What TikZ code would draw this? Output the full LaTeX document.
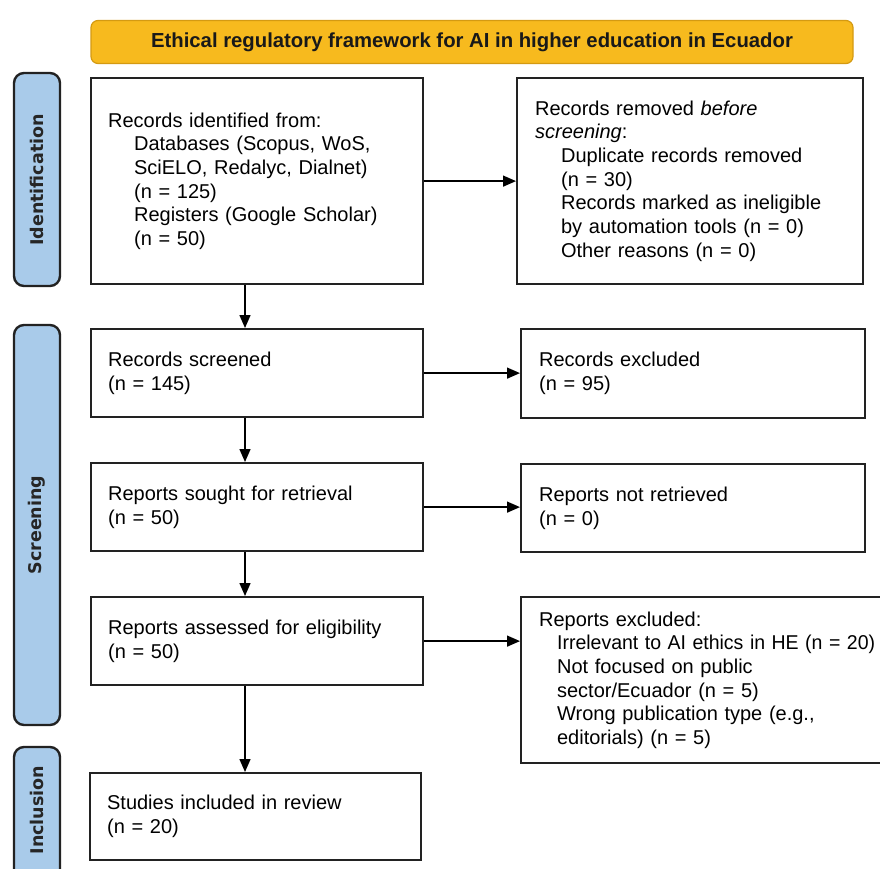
\documentclass[tikz,border=0pt]{standalone}
\usepackage{fontspec}
\setmainfont{Liberation Sans}
\newfontfamily\labfont{DejaVu Sans}
\usetikzlibrary{arrows.meta}
\definecolor{gold}{HTML}{F7BA1E}
\definecolor{goldline}{HTML}{D49A12}
\definecolor{phaseblue}{HTML}{A9CBEA}
\definecolor{darkline}{HTML}{222222}
\tikzset{
  box/.style={draw=darkline, line width=2.2pt, rectangle, align=left, inner xsep=17pt, inner ysep=0pt,
    font=\fontsize{20}{23.7}\selectfont, anchor=north west},
  phase/.style={draw=darkline, fill=phaseblue, line width=2.4pt, rounded corners=10pt},
  phasetext/.style={font=\labfont\bfseries\fontsize{17.5}{20}\selectfont, text=black!85, rotate=90},
  arr/.style={line width=1.4pt, -{Triangle[length=13pt,width=11pt]}}
}
\newcommand{\ind}{\hspace*{26pt}}
\begin{document}
\begin{tikzpicture}[x=1pt,y=-1pt]
\useasboundingbox (0,0) rectangle (880,868);
\clip (0,0) rectangle (880,868);
% title
\node[draw=goldline, fill=gold, line width=1.2pt, rounded corners=7pt, minimum width=762pt, minimum height=43pt, inner sep=0pt,
  font=\bfseries\fontsize{20.3}{22}\selectfont, text=black!90] (title) at (472,42) {Ethical regulatory framework for AI in higher education in Ecuador};
% phase labels
\draw[phase] (14,73) rectangle (60,286);
\node[phasetext] (pid) at (37,180) {Identification};
\draw[phase] (14,325) rectangle (60,725);
\node[phasetext] (psc) at (37,525) {Screening};
\draw[phase] (14,747) rectangle (60,900);
\node[phasetext] (pin) at (37,810) {Inclusion};
% left column
\node[box, minimum width=332pt, minimum height=206pt, text width=298pt] (b1) at (90,77) {Records identified from:\\
\ind Databases (Scopus, WoS,\\
\ind SciELO, Redalyc, Dialnet)\\
\ind (n = 125)\\
\ind Registers (Google Scholar)\\
\ind (n = 50)};
\node[box, minimum width=332pt, minimum height=88pt, text width=298pt] (b2) at (90,328) {Records screened\\(n = 145)};
\node[box, minimum width=332pt, minimum height=88pt, text width=298pt] (b3) at (90,462) {Reports sought for retrieval\\(n = 50)};
\node[box, minimum width=332pt, minimum height=88pt, text width=298pt] (b4) at (90,596) {Reports assessed for eligibility\\(n = 50)};
\node[box, minimum width=331pt, minimum height=87pt, text width=297pt] (b5) at (89,772) {Studies included in review\\(n = 20)};
% right column
\node[box, minimum width=345pt, minimum height=206pt, text width=310pt, inner xsep=18pt] (r1) at (516,77) {Records removed \textit{before}\\
\textit{screening}:\\
\ind Duplicate records removed\\
\ind (n = 30)\\
\ind Records marked as ineligible\\
\ind by automation tools (n = 0)\\
\ind Other reasons (n = 0)};
\node[box, minimum width=344pt, minimum height=89pt, text width=308pt, inner xsep=18pt] (r2) at (520,328) {Records excluded\\(n = 95)};
\node[box, minimum width=344pt, minimum height=88pt, text width=308pt, inner xsep=18pt] (r3) at (520,463) {Reports not retrieved\\(n = 0)};
\node[box, minimum width=400pt, minimum height=166pt, text width=364pt, inner xsep=18pt] (r4) at (520,596) {Reports excluded:\\
\hspace*{18pt}\scalebox{0.975}[1]{Irrelevant to AI ethics in HE (n = 20)}\\
\hspace*{18pt}Not focused on public\\
\hspace*{18pt}sector/Ecuador (n = 5)\\
\hspace*{18pt}Wrong publication type (e.g.,\\
\hspace*{18pt}editorials) (n = 5)};
% arrows
\coordinate (ax) at (245,0);
\draw[arr] (b1.south -| ax) -- (b2.north -| ax);
\draw[arr] (b2.south -| ax) -- (b3.north -| ax);
\draw[arr] (b3.south -| ax) -- (b4.north -| ax);
\draw[arr] (b4.south -| ax) -- (b5.north -| ax);
\draw[arr] (b1.east) -- (r1.west);
\draw[arr] (b2.east) -- (r2.west |- b2.east);
\draw[arr] (b3.east) -- (r3.west |- b3.east);
\draw[arr] (b4.east) -- (r4.west |- b4.east);
\end{tikzpicture}
\end{document}
